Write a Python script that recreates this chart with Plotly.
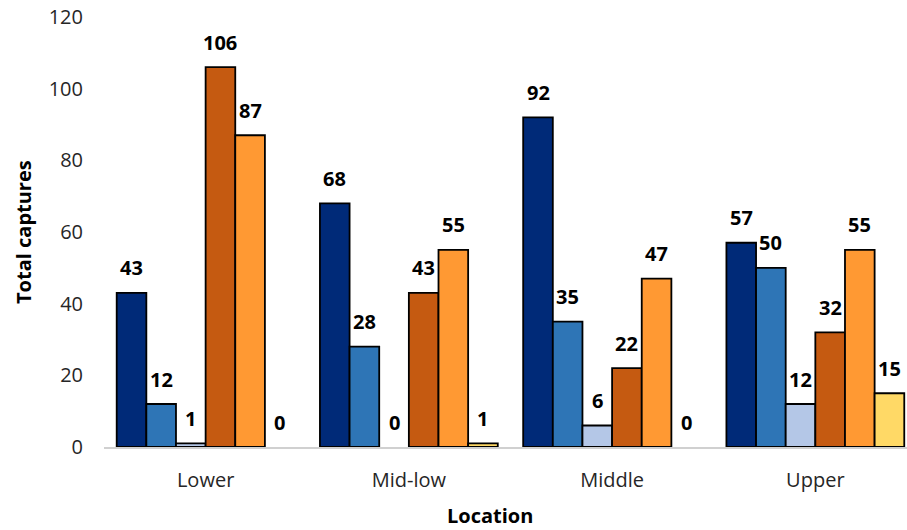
import plotly.graph_objects as go

# Capture totals per location, one series per group
locations = ["Lower", "Mid-low", "Middle", "Upper"]
series_names = ["Series 1", "Series 2", "Series 3", "Series 4", "Series 5", "Series 6"]
series_values = [
    [43, 68, 92, 57],
    [12, 28, 35, 50],
    [1, 0, 6, 12],
    [106, 43, 22, 32],
    [87, 55, 47, 55],
    [0, 1, 0, 15],
]
series_colors = ["#002A78", "#2E75B6", "#B4C7E7", "#C55A11", "#FF9933", "#FFD966"]
y_ticks = [0, 20, 40, 60, 80, 100, 120]

FONT = "Open Sans"
W, H = 907, 530
M_L, M_R, M_T, M_B = 104, 0, 17, 83
BARGAP = 0.125
X_RANGE = [-0.5, 3.451]

fig = go.Figure()
for name, vals, col in zip(series_names, series_values, series_colors):
    fig.add_trace(go.Bar(
        x=locations, y=vals, name=name,
        marker=dict(
            color=col,
            # no outline on empty bars
            line=dict(color="#000000", width=[1.8 if v > 0 else 0 for v in vals]),
        ),
    ))

# value labels above each bar, centred on the bar's slot within its group
n = len(series_values)
slot = (1 - BARGAP) / n
annotations = []
for i, vals in enumerate(series_values):
    for j, v in enumerate(vals):
        annotations.append(dict(
            x=j + (i - (n - 1) / 2) * slot, y=v, xref="x", yref="y",
            text=f"<b>{v}</b>", showarrow=False, yshift=25,
            xanchor="center", yanchor="middle",
            font=dict(family=FONT, size=20, color="#000000"),
        ))

plot_w = W - M_L - M_R
plot_h = H - M_T - M_B
annotations.append(dict(
    x=(23 - M_L) / plot_w, y=0.5, xref="paper", yref="paper",
    text="<b>Total captures</b>", textangle=-90, showarrow=False,
    xanchor="center", yanchor="middle",
    font=dict(family=FONT, size=20, color="#000000"),
))
annotations.append(dict(
    x=(490 - M_L) / plot_w, y=-(515 - (H - M_B)) / plot_h,
    xref="paper", yref="paper",
    text="<b>Location</b>", showarrow=False,
    xanchor="center", yanchor="middle",
    font=dict(family=FONT, size=20, color="#000000"),
))

fig.update_layout(
    width=W, height=H,
    margin=dict(l=M_L, r=M_R, t=M_T, b=M_B, pad=0),
    paper_bgcolor="white", plot_bgcolor="white",
    barmode="group", bargap=BARGAP, bargroupgap=0,
    showlegend=False,
    font=dict(family=FONT, size=20, color="#262626"),
    annotations=annotations,
    xaxis=dict(
        type="category", range=X_RANGE,
        showline=True, linecolor="#D0D0D0", linewidth=1.5,
        showgrid=False, ticks="", ticklabelstandoff=14,
        tickfont=dict(family=FONT, size=20, color="#262626"),
    ),
    yaxis=dict(
        range=[0, 120], tickvals=y_ticks,
        showline=False, showgrid=False, zeroline=False, ticks="",
        ticklabelstandoff=20,
        tickfont=dict(family=FONT, size=20, color="#262626"),
    ),
)

fig.write_html("out.html")
